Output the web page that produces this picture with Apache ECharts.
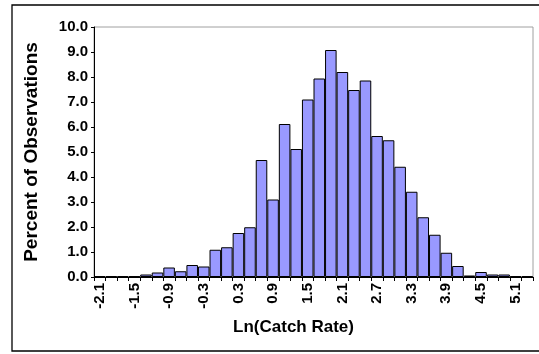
<!DOCTYPE html>
<html>
<head>
<meta charset="utf-8">
<script src="https://cdn.jsdelivr.net/npm/echarts@6/dist/echarts.min.js"></script>
<style>
  html, body { margin: 0; padding: 0; background: #fff; }
  #chart { width: 539px; height: 354px; }
</style>
</head>
<body>
<div id="chart"></div>
<script>
// Bin centres of ln(catch rate), step 0.2
const binCenters = [
  '-2.1','-1.9','-1.7','-1.5','-1.3','-1.1','-0.9','-0.7','-0.5','-0.3',
  '-0.1','0.1','0.3','0.5','0.7','0.9','1.1','1.3','1.5','1.7',
  '1.9','2.1','2.3','2.5','2.7','2.9','3.1','3.3','3.5','3.7',
  '3.9','4.1','4.3','4.5','4.7','4.9','5.1','5.3'
];

// Percent of observations falling in each bin
const percentObs = [
  0.03, 0.03, 0.03, 0.03, 0.1, 0.18, 0.38, 0.23, 0.48, 0.42,
  1.09, 1.19, 1.76, 1.99, 4.68, 3.1, 6.12, 5.12, 7.1, 7.94,
  9.08, 8.2, 7.48, 7.86, 5.64, 5.47, 4.41, 3.41, 2.39, 1.69,
  0.97, 0.44, 0.06, 0.2, 0.1, 0.1, 0.03, 0.03
];

// Y axis: 0.0 .. 10.0 in steps of 1.0
const yMin = 0, yMax = 10, yStep = 1;

const FONT = 'Arial, "Liberation Sans", sans-serif';

const chart = echarts.init(document.getElementById('chart'), null, { renderer: 'canvas' });

chart.setOption({
  animation: false,
  backgroundColor: '#ffffff',
  textStyle: { fontFamily: FONT },
  graphic: [
    {
      type: 'rect',
      shape: { x: 12, y: 5, width: 530, height: 346 },
      style: { fill: 'none', stroke: '#000', lineWidth: 1.3 },
      silent: true, z: 0
    }
  ],
  grid: {
    left: 94, right: 6, top: 27, bottom: 77,
    show: true, borderColor: '#a0a0a0', borderWidth: 1, backgroundColor: '#fff'
  },
  xAxis: {
    type: 'category',
    data: binCenters,
    boundaryGap: true,
    name: 'Ln(Catch Rate)',
    nameLocation: 'middle',
    nameGap: 42,
    nameTextStyle: {
      fontFamily: FONT, fontWeight: 'bold', fontSize: 17, color: '#000',
      padding: [0, 40, 0, 0]
    },
    axisLine: { lineStyle: { color: '#000', width: 1 } },
    axisTick: { show: true, interval: 0, length: 4, lineStyle: { color: '#000' } },
    axisLabel: {
      interval: 2, rotate: 90, margin: 6,
      fontFamily: FONT, fontWeight: 'bold', fontSize: 15, color: '#000'
    },
    splitLine: { show: false }
  },
  yAxis: {
    type: 'value',
    min: yMin, max: yMax, interval: yStep,
    name: 'Percent of Observations',
    nameLocation: 'middle',
    nameGap: 53,
    nameRotate: 90,
    nameTextStyle: { fontFamily: FONT, fontWeight: 'bold', fontSize: 19, color: '#000' },
    axisLine: { show: true, lineStyle: { color: '#000', width: 1 } },
    axisTick: { show: true, length: 3, lineStyle: { color: '#000' } },
    axisLabel: {
      margin: 6,
      formatter: v => v.toFixed(1),
      fontFamily: FONT, fontWeight: 'bold', fontSize: 15, color: '#000'
    },
    splitLine: { show: false }
  },
  series: [
    {
      type: 'bar',
      data: percentObs,
      barCategoryGap: '0%',
      itemStyle: { color: '#9999ff', borderColor: '#000', borderWidth: 1 },
      z: 3
    }
  ]
});
</script>
</body>
</html>
